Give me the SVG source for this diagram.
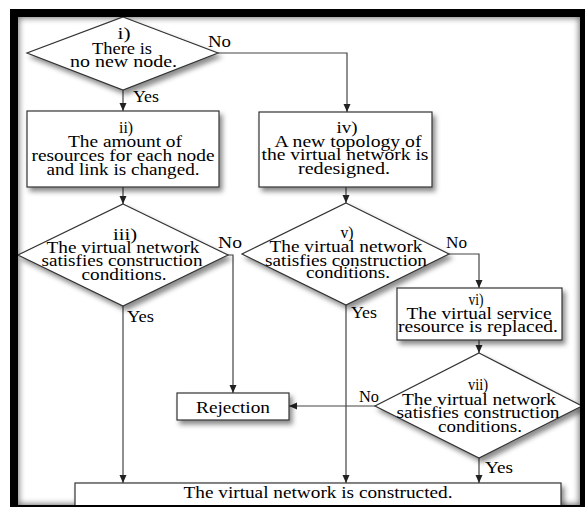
<svg xmlns="http://www.w3.org/2000/svg" width="585" height="507" viewBox="0 0 585 507">
<defs>
<style>
.shape{fill:#fff;stroke:#333;stroke-width:1.2;filter:url(#sh)}
.con{fill:none;stroke:#444;stroke-width:1.2}
.arr{marker-end:url(#ah)}
.c{text-anchor:middle}
</style>
<filter id="sh" x="-20%" y="-20%" width="150%" height="160%">
<feDropShadow dx="3" dy="4" stdDeviation="2.5" flood-color="#000" flood-opacity="0.45"/>
</filter>
<filter id="blur" x="-10%" y="-10%" width="120%" height="120%">
<feGaussianBlur stdDeviation="3"/>
</filter>
<clipPath id="inner"><rect x="18" y="17" width="562" height="488"/></clipPath>
<marker id="ah" viewBox="0 0 8 8" refX="8" refY="4" markerWidth="8" markerHeight="8" markerUnits="userSpaceOnUse" orient="auto">
<path d="M0,0.5 L8,4 L0,7.5 Z" fill="#222"/>
</marker>
</defs>
<rect x="0" y="0" width="585" height="507" fill="#fff"/>
<g clip-path="url(#inner)">
<rect x="14" y="13" width="570" height="496" fill="none" stroke="#000" stroke-width="10" opacity="0.55" filter="url(#blur)"/>
</g>

<g font-family="'Liberation Serif', 'Times New Roman', 'DejaVu Serif', serif" font-size="16" fill="#000">
<g id="connectors">
<path class="con arr" d="M123,90 L123,111"/>
<path class="con arr" d="M218,53 L347,53 L347,112"/>
<path class="con arr" d="M123,187 L123,204"/>
<path class="con arr" d="M346,187 L346,203"/>
<path class="con arr" d="M228,255 L233,255 L233,393"/>
<path class="con arr" d="M123,306 L123,483"/>
<path class="con arr" d="M449,254 L479,254 L479,288"/>
<path class="con arr" d="M346,305 L346,483"/>
<path class="con arr" d="M479,340 L479,353"/>
<path class="con arr" d="M375,406 L289,406"/>
<path class="con arr" d="M479,458 L479,483"/>
<text x="208" y="47" textLength="23" lengthAdjust="spacingAndGlyphs">No</text>
<text x="133" y="102" textLength="26" lengthAdjust="spacingAndGlyphs">Yes</text>
<text x="218" y="248" textLength="24" lengthAdjust="spacingAndGlyphs">No</text>
<text x="127" y="322" textLength="27" lengthAdjust="spacingAndGlyphs">Yes</text>
<text x="446" y="248" textLength="21" lengthAdjust="spacingAndGlyphs">No</text>
<text x="351" y="318" textLength="26" lengthAdjust="spacingAndGlyphs">Yes</text>
<text x="359" y="402" textLength="20" lengthAdjust="spacingAndGlyphs">No</text>
<text x="485" y="473" textLength="28" lengthAdjust="spacingAndGlyphs">Yes</text>
</g>

<g id="node-i">
<polygon class="shape" points="123,17 218,53 123,90 27,53"/>
<text class="c" x="124" y="39" textLength="13" lengthAdjust="spacingAndGlyphs">i)</text>
<text class="c" x="122" y="54" textLength="60" lengthAdjust="spacingAndGlyphs">There is</text>
<text class="c" x="123.5" y="67" textLength="107" lengthAdjust="spacingAndGlyphs">no new node.</text>
</g>

<g id="node-ii">
<rect class="shape" x="27" y="111" width="192" height="76"/>
<text class="c" x="126" y="133" textLength="14" lengthAdjust="spacingAndGlyphs">ii)</text>
<text class="c" x="125" y="147" textLength="114" lengthAdjust="spacingAndGlyphs">The amount of</text>
<text class="c" x="123" y="161" textLength="183" lengthAdjust="spacingAndGlyphs">resources for each node</text>
<text class="c" x="123" y="175" textLength="153" lengthAdjust="spacingAndGlyphs">and link is changed.</text>
</g>

<g id="node-iv">
<rect class="shape" x="259" y="112" width="173" height="75"/>
<text class="c" x="347" y="133" textLength="21" lengthAdjust="spacingAndGlyphs">iv)</text>
<text class="c" x="348" y="147" textLength="147" lengthAdjust="spacingAndGlyphs">A new topology of</text>
<text class="c" x="345" y="160" textLength="167" lengthAdjust="spacingAndGlyphs">the virtual network is</text>
<text class="c" x="344" y="174" textLength="92" lengthAdjust="spacingAndGlyphs">redesigned.</text>
</g>

<g id="node-iii">
<polygon class="shape" points="123,204 228,255 123,306 18,255"/>
<text class="c" x="125" y="240" textLength="24" lengthAdjust="spacingAndGlyphs">iii)</text>
<text class="c" x="123" y="253" textLength="153" lengthAdjust="spacingAndGlyphs">The virtual network</text>
<text class="c" x="122" y="266" textLength="161" lengthAdjust="spacingAndGlyphs">satisfies construction</text>
<text class="c" x="124" y="280" textLength="85" lengthAdjust="spacingAndGlyphs">conditions.</text>
</g>

<g id="node-v">
<polygon class="shape" points="346,203 449,254 346,305 242,254"/>
<text class="c" x="347" y="238" textLength="13" lengthAdjust="spacingAndGlyphs">v)</text>
<text class="c" x="346" y="252" textLength="153" lengthAdjust="spacingAndGlyphs">The virtual network</text>
<text class="c" x="346" y="266" textLength="162" lengthAdjust="spacingAndGlyphs">satisfies construction</text>
<text class="c" x="348" y="278" textLength="84" lengthAdjust="spacingAndGlyphs">conditions.</text>
</g>

<g id="node-vi">
<rect class="shape" x="397" y="288" width="165" height="52"/>
<text class="c" x="476" y="305" textLength="15" lengthAdjust="spacingAndGlyphs">vi)</text>
<text class="c" x="479" y="319" textLength="145" lengthAdjust="spacingAndGlyphs">The virtual service</text>
<text class="c" x="478" y="332" textLength="160" lengthAdjust="spacingAndGlyphs">resource is replaced.</text>
</g>

<g id="node-vii">
<polygon class="shape" points="479,353 582,406 479,458 375,406"/>
<text class="c" x="478" y="390" textLength="20" lengthAdjust="spacingAndGlyphs">vii)</text>
<text class="c" x="479" y="405" textLength="154" lengthAdjust="spacingAndGlyphs">The virtual network</text>
<text class="c" x="478" y="418" textLength="163" lengthAdjust="spacingAndGlyphs">satisfies construction</text>
<text class="c" x="480" y="432" textLength="84" lengthAdjust="spacingAndGlyphs">conditions.</text>
</g>

<g id="node-rejection">
<rect class="shape" x="177" y="393" width="112" height="27"/>
<text class="c" x="233" y="413" textLength="74" lengthAdjust="spacingAndGlyphs">Rejection</text>
</g>

<g id="node-constructed">
<rect class="shape" x="75" y="483" width="486" height="30"/>
<text class="c" x="318" y="498" textLength="269" lengthAdjust="spacingAndGlyphs">The virtual network is constructed.</text>
</g>
</g>

<path d="M10,9 H585 V507 H10 Z M18,17 V505 H580 V17 Z" fill="#000" fill-rule="evenodd"/>
</svg>
